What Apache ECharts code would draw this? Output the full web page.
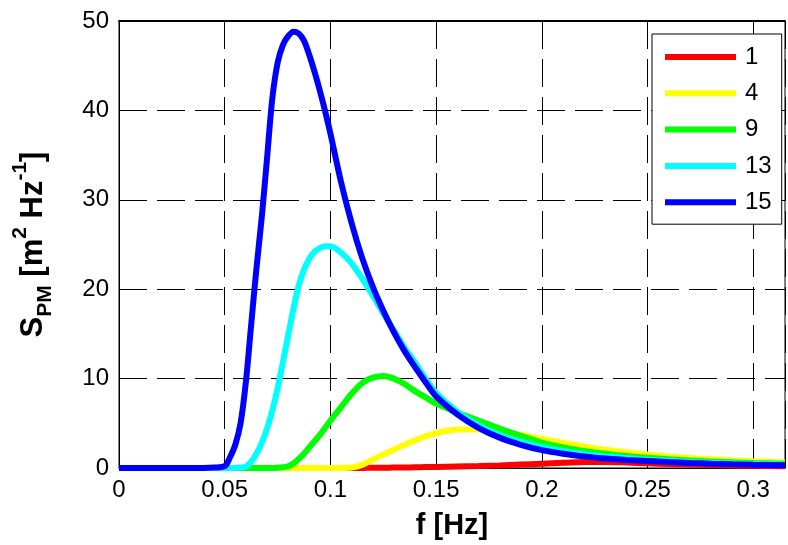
<!DOCTYPE html>
<html>
<head>
<meta charset="utf-8">
<script src="https://cdn.jsdelivr.net/npm/echarts@6/dist/echarts.min.js"></script>
<style>
html,body{margin:0;padding:0;background:#fff;}
#chart{width:788px;height:545px;}
</style>
</head>
<body>
<div id="chart"></div>
<script>
// frequency [Hz]
const freq = [0, 0.01, 0.02, 0.03, 0.04, 0.045,
  0.05, 0.0525, 0.055, 0.0575, 0.06, 0.0625, 0.065, 0.0675, 0.07, 0.0725, 0.075, 0.0775, 0.08, 0.0825, 0.085, 0.0875, 0.09, 0.0925, 0.095, 0.0975, 0.1,
  0.105, 0.11, 0.115, 0.12, 0.125, 0.13, 0.135, 0.14, 0.145, 0.15,
  0.16, 0.17, 0.18, 0.19, 0.2, 0.21, 0.22, 0.23, 0.24, 0.25, 0.26, 0.27, 0.28, 0.29, 0.3,
  0.315];

const s1 = [0, 0, 0, 0, 0, 0,
  0, 0, 0, 0, 0, 0, 0, 0, 0, 0, 0, 0, 0, 0, 0, 0, 0, 0, 0, 0, 0,
  0, 0, 0.01, 0.02, 0.03, 0.05, 0.06, 0.08, 0.1, 0.12,
  0.17, 0.22, 0.28, 0.38, 0.48, 0.58, 0.66, 0.68, 0.62, 0.52, 0.45, 0.38, 0.33, 0.28, 0.24,
  0.2];

const s4 = [0, 0, 0, 0, 0, 0,
  0, 0, 0, 0, 0, 0, 0, 0, 0, 0, 0, 0, 0, 0, 0, 0, 0, 0, 0, 0, 0,
  0, 0.05, 0.35, 0.95, 1.5, 2.05, 2.6, 3.1, 3.55, 3.9,
  4.3, 4.3, 4.1, 3.7, 3.25, 2.8, 2.4, 2.05, 1.75, 1.5, 1.3, 1.12, 0.98, 0.85, 0.75,
  0.62];

const s9 = [0, 0, 0, 0, 0, 0,
  0, 0, 0, 0, 0, 0, 0, 0, 0, 0, 0.02, 0.08, 0.2, 0.5, 1.0, 1.6, 2.3, 3.0, 3.7, 4.5, 5.3,
  6.8, 8.3, 9.5, 10.1, 10.3, 10.0, 9.4, 8.6, 7.9, 7.2,
  6.2, 5.3, 4.4, 3.6, 2.85, 2.3, 1.9, 1.6, 1.35, 1.15, 0.98, 0.84, 0.72, 0.63, 0.56,
  0.47];

const s13 = [0, 0, 0, 0, 0, 0,
  0, 0, 0, 0.05, 0.15, 0.7, 1.6, 2.8, 4.4, 6.4, 8.9, 11.8, 14.8, 17.8, 20.4, 22.2, 23.4, 24.2, 24.6, 24.8, 24.8,
  24.1, 22.9, 21.2, 19.3, 17.3, 15.4, 13.5, 11.8, 10.0, 8.4,
  6.3, 4.8, 3.7, 2.95, 2.35, 1.9, 1.55, 1.3, 1.1, 0.92, 0.8, 0.68, 0.58, 0.5, 0.45,
  0.38];

const s15 = [0, 0, 0, 0, 0, 0.05,
  0.2, 1.2, 2.6, 5.0, 9.6, 16.0, 22.3, 28.0, 34.6, 41.3, 45.3, 47.3, 48.3, 48.8, 48.6, 47.8, 46.2, 44.3, 42.2, 39.9, 37.4,
  32.0, 27.4, 23.5, 20.3, 17.6, 15.2, 13.1, 11.3, 9.6, 8.0,
  6.0, 4.5, 3.4, 2.6, 2.0, 1.6, 1.3, 1.05, 0.9, 0.78, 0.66, 0.56, 0.48, 0.42, 0.37,
  0.31];

const seriesNames = ['1', '4', '9', '13', '15'];
const seriesValues = [s1, s4, s9, s13, s15];
const seriesColors = ['#ff0000', '#ffff00', '#00ff00', '#00ffff', '#0000ff'];

const yTicks = [0, 10, 20, 30, 40, 50];
const xTickStep = 0.05;

const FONT = "'Liberation Sans', Arial, sans-serif";

const chart = echarts.init(document.getElementById('chart'), null, {renderer: 'canvas'});

function xFmt(v) {
  const k = v / xTickStep;
  if (Math.abs(k - Math.round(k)) > 1e-6) return '';
  return String(Number(v.toFixed(2)));
}

const option = {
  animation: false,
  backgroundColor: '#fff',
  grid: {
    left: 119, top: 21, right: 0, bottom: 76,
    show: true, borderColor: '#000', borderWidth: 1, backgroundColor: 'transparent'
  },
  legend: {
    orient: 'vertical',
    left: 652, top: 34,
    padding: [11, 10, 10, 13],
    backgroundColor: '#fff',
    borderColor: '#000', borderWidth: 1,
    itemWidth: 71, itemHeight: 6, itemGap: 12.3,
    icon: 'rect',
    textStyle: {fontFamily: FONT, fontSize: 24, color: '#000', lineHeight: 24, padding: [0, 0, 0, 4]},
    data: seriesNames
  },
  xAxis: [{
    type: 'value', min: 0, max: 0.315, interval: xTickStep,
    name: 'f [Hz]', nameLocation: 'middle', nameGap: 43,
    nameTextStyle: {fontFamily: FONT, fontSize: 29, fontWeight: 'bold', color: '#000'},
    axisLine: {show: true, lineStyle: {color: '#000', width: 1}},
    axisTick: {show: true, inside: true, length: 10, lineStyle: {color: '#000'}},
    axisLabel: {fontFamily: FONT, fontSize: 24, color: '#000', margin: 10, formatter: xFmt},
    splitLine: {show: true, lineStyle: {color: '#000', type: [28, 10], width: 1}}
  }, {
    type: 'value', min: 0, max: 0.315, interval: xTickStep, position: 'top',
    axisLine: {show: true, lineStyle: {color: '#000', width: 2}},
    axisTick: {show: true, inside: true, length: 10, lineStyle: {color: '#000'}},
    axisLabel: {show: false},
    splitLine: {show: false}
  }],
  yAxis: {
    type: 'value', min: yTicks[0], max: yTicks[yTicks.length - 1], interval: 10,
    name: '{m|S}{sub|PM}{m| [m}{sup|2}{m| Hz}{sup|-1}{m|]}',
    nameLocation: 'middle', nameGap: 63, nameRotate: 90,
    nameTextStyle: {
      fontFamily: FONT, fontSize: 31, fontWeight: 'bold', color: '#000',
      rich: {
        m: {fontFamily: FONT, fontSize: 31, fontWeight: 'bold', color: '#000', lineHeight: 46},
        sub: {fontFamily: FONT, fontSize: 21, fontWeight: 'bold', color: '#000', lineHeight: 23, verticalAlign: 'bottom'},
        sup: {fontFamily: FONT, fontSize: 21, fontWeight: 'bold', color: '#000', lineHeight: 19, verticalAlign: 'top'}
      }
    },
    axisLine: {show: true, lineStyle: {color: '#000', width: 1}},
    axisTick: {show: true, inside: true, length: 10, lineStyle: {color: '#000'}},
    axisLabel: {fontFamily: FONT, fontSize: 24, color: '#000', margin: 10},
    splitLine: {show: true, lineStyle: {color: '#000', type: [28, 10], width: 1}}
  },
  series: seriesNames.map((n, i) => ({
    name: n,
    type: 'line',
    xAxisIndex: 0,
    data: freq.map((f, j) => [f, seriesValues[i][j]]),
    showSymbol: false,
    smooth: 0.3,
    clip: true,
    itemStyle: {color: seriesColors[i]},
    lineStyle: {color: seriesColors[i], width: 6}
  }))
};

chart.setOption(option);
</script>
</body>
</html>
